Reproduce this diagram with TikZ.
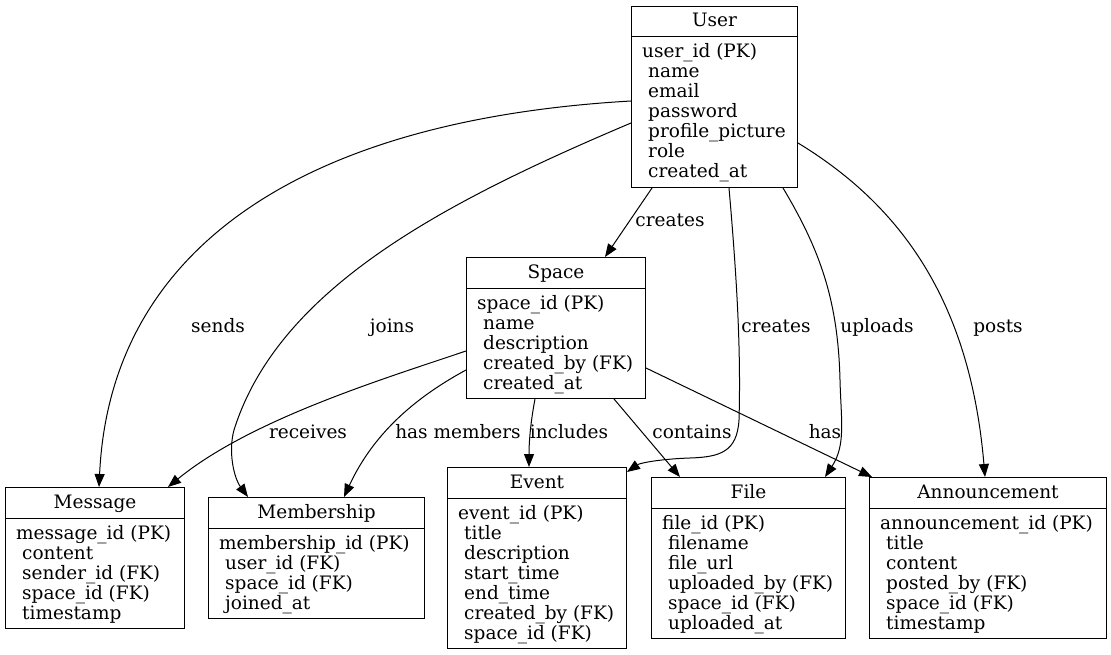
\documentclass[tikz,border=0pt]{standalone}
\usepackage{fontspec}
\setmainfont{DejaVu Serif}
\usetikzlibrary{arrows.meta,calc}
\newcommand\erfont{\fontsize{18.5}{20}\selectfont}
\tikzset{
  entbox/.style={draw, line width=1pt, rectangle, inner sep=0pt, anchor=north west},
  attr/.style={inner sep=0pt, anchor=base west, font=\erfont},
  ttl/.style={inner sep=0pt, anchor=base, font=\erfont},
  lbl/.style={inner sep=0pt, anchor=base, font=\erfont},
  rel/.style={line width=1pt, -{Triangle[length=13pt,width=10pt]}},
}
\newcommand\erent[7]{%
  \node[entbox, minimum width=#4pt, minimum height={41pt+20pt*#5}] (#1) at (#2,#3) {};
  \draw[line width=1pt] ($(#1.north west)+(0,31)$) -- ($(#1.north east)+(0,31)$);
  \node[ttl] (#1-title) at ($(#1.north)+(0,21)$) {#6};
  \foreach \t [count=\i from 0] in {#7} {
    \node[attr] (#1-a\i) at ($(#1.north west)+({11+6*min(\i,1)},{52+20*\i})$) {\t};
  }
}
\begin{document}
\begin{tikzpicture}[x=1pt,y=-1pt]
\useasboundingbox (0,0) rectangle (1111,655);
\erent{user}{631}{6}{166}{7}{User}{user\_id (PK),name,email,password,profile\_picture,role,created\_at}
\erent{space}{466}{257}{179}{5}{Space}{space\_id (PK),name,description,created\_by (FK),created\_at}
\erent{message}{5}{487}{179}{5}{Message}{message\_id (PK),content,sender\_id (FK),space\_id (FK),timestamp}
\erent{membership}{208}{497}{216}{4}{Membership}{membership\_id (PK),user\_id (FK),space\_id (FK),joined\_at}
\erent{event}{447}{467}{179}{7}{Event}{event\_id (PK),title,description,start\_time,end\_time,created\_by (FK),space\_id (FK)}
\erent{file}{651}{477}{194}{6}{File}{file\_id (PK),filename,file\_url,uploaded\_by (FK),space\_id (FK),uploaded\_at}
\erent{ann}{869}{477}{237}{6}{Announcement}{announcement\_id (PK),title,content,posted\_by (FK),space\_id (FK),timestamp}

% connectors
\draw[rel] ($(user.south west)+(21,0)$) -- ($(space.north west)+(139,0)$);
\draw[rel] ($(user.north west)+(0,95)$) .. controls (300,120) and (110,250) .. ($(message.north west)+(94,0)$);
\draw[rel] ($(user.north west)+(0,117)$) .. controls (447,201) and (279,287) .. (234,430) .. controls (228,452) and (234,478) .. ($(membership.north west)+(40,0)$);
\draw[rel] ($(user.south west)+(98,0)$) .. controls (737,280) and (741,350) .. (739,420) .. controls (737,452) and (720,457) .. (690,458) .. controls (660,459) and (640,463) .. ($(event.north east)+(0,5)$);
\draw[rel] ($(user.south west)+(152,0)$) .. controls (820,250) and (838,300) .. (840,380) .. controls (841,420) and (846,445) .. ($(file.north west)+(174,0)$);
\draw[rel] ($(user.north east)+(0,137)$) .. controls (900,205) and (970,300) .. ($(ann.north west)+(116,0)$);
\draw[rel] ($(space.north west)+(0,94)$) .. controls (380,380) and (250,420) .. ($(message.north west)+(163,0)$);
\draw[rel] ($(space.north west)+(0,113)$) .. controls (420,395) and (375,430) .. ($(membership.north west)+(136,0)$);
\draw[rel] ($(space.south west)+(69,0)$) .. controls (531,420) and (529,440) .. ($(event.north west)+(82,0)$);
\draw[rel] ($(space.south west)+(148,0)$) -- ($(file.north west)+(29,0)$);
\draw[rel] ($(space.north east)+(0,111)$) -- ($(ann.north west)+(3,0)$);

% labels
\node[lbl] (l-creates1) at (670,226) {creates};
\node[lbl] (l-sends) at (218,332) {sends};
\node[lbl] (l-joins) at (392,332) {joins};
\node[lbl] (l-creates2) at (776,332) {creates};
\node[lbl] (l-uploads) at (877,332) {uploads};
\node[lbl] (l-posts) at (998,332) {posts};
\node[lbl] (l-receives) at (308,438) {receives};
\node[lbl] (l-hasmem) at (458,438) {has members};
\node[lbl] (l-includes) at (569,438) {includes};
\node[lbl] (l-contains) at (692,438) {contains};
\node[lbl] (l-has) at (825,438) {has};
\end{tikzpicture}
\end{document}
